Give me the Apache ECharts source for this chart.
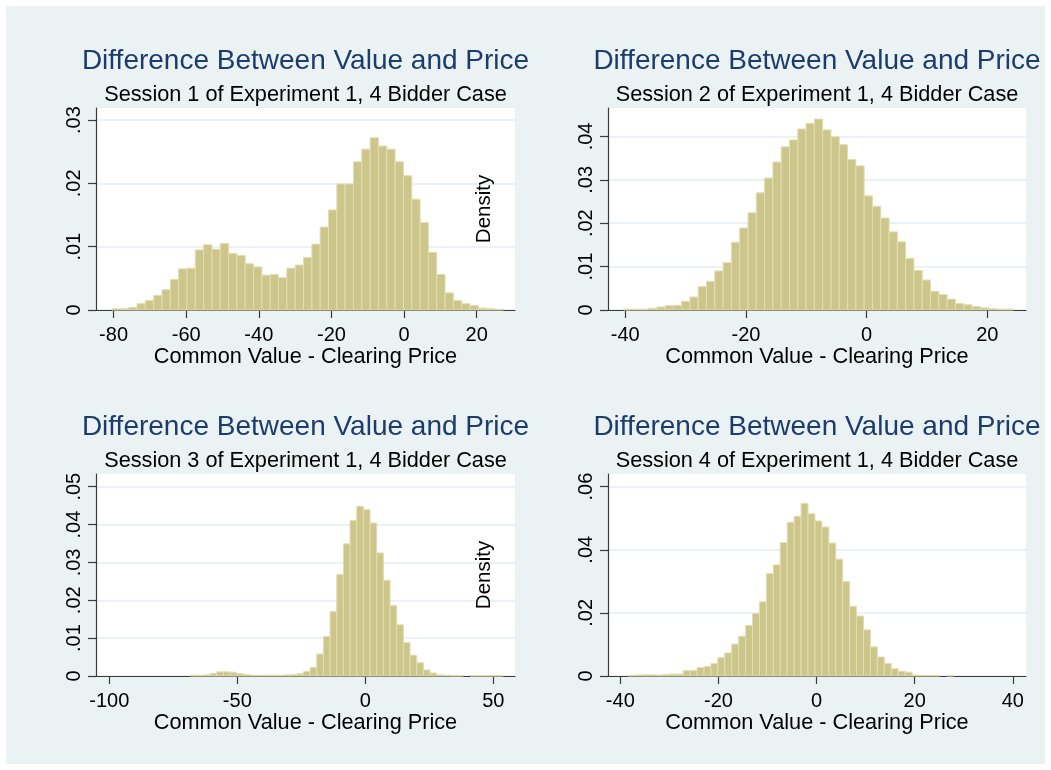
<!DOCTYPE html>
<html><head><meta charset="utf-8">
<script src="https://cdn.jsdelivr.net/npm/echarts@6/dist/echarts.min.js"></script>
<style>html,body{margin:0;padding:0;background:#fff}#c{width:1051px;height:770px}</style>
</head><body><div id="c"></div>
<script>
// ---------- data ----------
const mainTitle = 'Difference Between Value and Price';
const subTitles = [
  'Session 1 of Experiment 1, 4 Bidder Case',
  'Session 2 of Experiment 1, 4 Bidder Case',
  'Session 3 of Experiment 1, 4 Bidder Case',
  'Session 4 of Experiment 1, 4 Bidder Case'
];
const xAxisTitle = 'Common Value - Clearing Price';
const yAxisTitle = 'Density';

// histogram densities (47 equal-width bins each), first bin edge and bin width
const s1Start = -80.43, s1Width = 2.293;
const s1Density = [0.0002,0.0002,0.0004,0.0010,0.0015,0.0023,0.0032,0.0048,0.0065,0.0066,
  0.0095,0.0103,0.0096,0.0105,0.0089,0.0086,0.0073,0.0068,0.0055,0.0056,
  0.0051,0.0066,0.0071,0.0083,0.0104,0.0131,0.0158,0.0199,0.0199,0.0234,
  0.0254,0.0272,0.0259,0.0254,0.0234,0.0212,0.0175,0.0138,0.0091,0.0056,
  0.0027,0.0015,0.0010,0.0007,0.0003,0.0002,0.0001];

const s2Start = -40.28, s2Width = 1.375;
const s2Density = [0.0002,0.0002,0.0002,0.0004,0.0007,0.0010,0.0011,0.0020,0.0030,0.0054,
  0.0066,0.0090,0.0109,0.0156,0.0189,0.0224,0.0270,0.0304,0.0341,0.0376,
  0.0392,0.0417,0.0430,0.0440,0.0415,0.0399,0.0381,0.0347,0.0332,0.0263,
  0.0239,0.0212,0.0180,0.0157,0.0119,0.0091,0.0069,0.0043,0.0036,0.0025,
  0.0015,0.0012,0.0008,0.0005,0.0003,0.0002,0.0002];

const s3Start = -68.4, s3Width = 2.602;
const s3Density = [0.0002,0.0002,0.0003,0.0007,0.0011,0.0011,0.0010,0.0006,0.0004,0.0002,
  0.0002,0.0002,0.0002,0.0002,0.0003,0.0004,0.0006,0.0012,0.0023,0.0058,
  0.0104,0.0170,0.0268,0.0349,0.0411,0.0448,0.0439,0.0404,0.0325,0.0253,
  0.0186,0.0135,0.0088,0.0055,0.0035,0.0016,0.0008,0.0003,0.0002,0.0001,
  0.0001,0,0.0001,0.0001,0.0001,0.0001,0.0001];

const s4Start = -38.5, s4Width = 1.414;
const s4Density = [0.0002,0.0003,0.0004,0.0004,0.0003,0.0005,0.0006,0.0006,0.0017,0.0017,
  0.0027,0.0030,0.0039,0.0058,0.0073,0.0101,0.0126,0.0160,0.0198,0.0235,
  0.0324,0.0352,0.0423,0.0487,0.0506,0.0547,0.0514,0.0491,0.0472,0.0421,
  0.0370,0.0299,0.0221,0.0190,0.0146,0.0092,0.0060,0.0040,0.0023,0.0015,
  0.0012,0.0003,0.0002,0.0002,0.0002,0,0.0002];

// tick values
const s1XTicks = [-80,-60,-40,-20,0,20];
const s1YTicks = [0,0.01,0.02,0.03];
const s2XTicks = [-40,-20,0,20];
const s2YTicks = [0,0.01,0.02,0.03,0.04];
const s3XTicks = [-100,-50,0,50];
const s3YTicks = [0,0.01,0.02,0.03,0.04,0.05];
const s4XTicks = [-40,-20,0,20,40];
const s4YTicks = [0,0.02,0.04,0.06];

// ---------- layout ----------
const FONT = '"Liberation Sans", Arial, Helvetica, sans-serif';
const panels = [
  {start:s1Start, width:s1Width, dens:s1Density, xt:s1XTicks, yt:s1YTicks,
   grid:{left:96, top:108, width:419, height:202}, xr:[-84.84,30.55], yr:[0,0.0319], dens_name:false},
  {start:s2Start, width:s2Width, dens:s2Density, xt:s2XTicks, yt:s2YTicks,
   grid:{left:608, top:108, width:418, height:202}, xr:[-42.86,26.42], yr:[0,0.04655], dens_name:true},
  {start:s3Start, width:s3Width, dens:s3Density, xt:s3XTicks, yt:s3YTicks,
   grid:{left:96, top:474, width:419, height:202}, xr:[-105.2,58.47], yr:[0,0.05335], dens_name:false},
  {start:s4Start, width:s4Width, dens:s4Density, xt:s4XTicks, yt:s4YTicks,
   grid:{left:608, top:474, width:418, height:202}, xr:[-42.51,42.7], yr:[0,0.064], dens_name:true}
];

const axisColor = '#3a3a3a';
const gridLineColor = '#e5edf0';
const barFill = '#cdc68b';
const barStroke = '#e2ddb3';

function fmtY(v){ if (Math.abs(v) < 1e-12) return '0'; return String(+v.toFixed(4)).replace(/^0\./,'.'); }

const grids = [], xAxes = [], yAxes = [], series = [], graphics = [];

graphics.push({type:'rect', shape:{x:6,y:6,width:1039,height:758}, style:{fill:'#eaf2f3'}, z:-10, silent:true});

panels.forEach((p, i) => {
  grids.push(Object.assign({show:true, backgroundColor:'#ffffff', borderWidth:0}, p.grid));
  xAxes.push({
    type:'value', gridIndex:i, min:p.xr[0], max:p.xr[1],
    name: xAxisTitle, nameLocation:'middle', nameGap:35,
    nameTextStyle:{fontFamily:FONT, fontSize:21.7, color:'#000'},
    axisLine:{show:true, onZero:false, lineStyle:{color:axisColor, width:1.2}},
    axisTick:{show:true, length:8, inside:false, customValues:p.xt, lineStyle:{color:axisColor, width:1.2}},
    axisLabel:{show:true, margin:15, customValues:p.xt, fontFamily:FONT, fontSize:20, color:'#000'},
    splitLine:{show:false}
  });
  yAxes.push({
    type:'value', gridIndex:i, min:p.yr[0], max:p.yr[1],
    name: p.dens_name ? yAxisTitle : '', nameLocation:'middle', nameGap:113, nameRotate:90,
    nameTextStyle:{fontFamily:FONT, fontSize:20.5, color:'#000'},
    axisLine:{show:true, onZero:false, lineStyle:{color:axisColor, width:1.2}},
    axisTick:{show:true, length:8, inside:false, customValues:p.yt, lineStyle:{color:axisColor, width:1.2}},
    axisLabel:{show:true, margin:12, rotate:90, customValues:p.yt, formatter:fmtY, fontFamily:FONT, fontSize:20, color:'#000'},
    splitLine:{show:true, lineStyle:{color:gridLineColor, width:1.5}}
  });
  const data = p.dens.map((d, k) => [p.start + k*p.width, p.start + (k+1)*p.width, d]);
  series.push({
    type:'custom', xAxisIndex:i, yAxisIndex:i, data:data,
    encode:{x:[0,1], y:2},
    renderItem:function(params, api){
      const x0 = api.value(0), x1 = api.value(1), h = api.value(2);
      if (!h) return null;
      const a = api.coord([x0, 0]), b = api.coord([x1, h]);
      return {type:'rect', shape:{x:a[0], y:b[1], width:b[0]-a[0], height:a[1]-b[1]},
        style:{fill:barFill, stroke:barStroke, lineWidth:1}};
    }
  });
  const cx = p.grid.left + p.grid.width/2;
  const rowTop = p.grid.top;
  graphics.push({type:'text', x:cx, y:rowTop-47, silent:true,
    style:{text:mainTitle, align:'center', verticalAlign:'middle', textAlign:'center', textVerticalAlign:'middle',
      fontFamily:FONT, fontSize:28, fill:'#1c3c6c'}});
  graphics.push({type:'text', x:cx, y:rowTop-13, silent:true,
    style:{text:subTitles[i], align:'center', verticalAlign:'middle', textAlign:'center', textVerticalAlign:'middle',
      fontFamily:FONT, fontSize:21.7, fill:'#000'}});
});

const chart = echarts.init(document.getElementById('c'), null, {renderer:'canvas'});
chart.setOption({
  backgroundColor:'#ffffff',
  animation:false,
  grid:grids, xAxis:xAxes, yAxis:yAxes, series:series,
  graphic:graphics
});
</script></body></html>
